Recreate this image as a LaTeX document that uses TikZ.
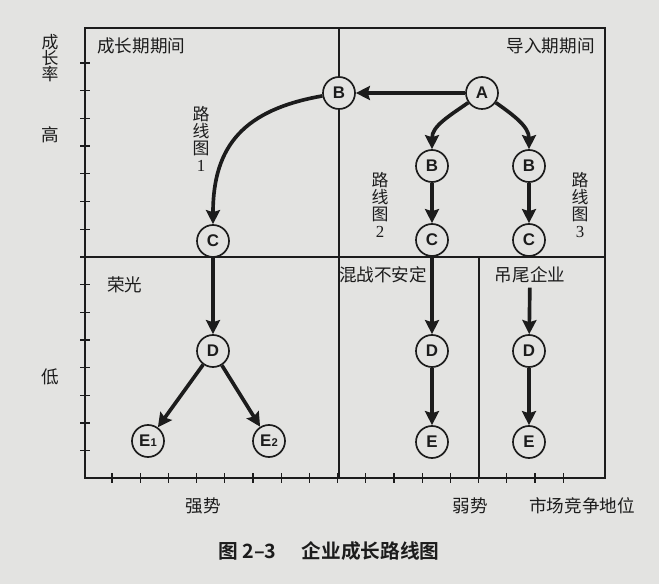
\documentclass[tikz,border=0pt]{standalone}
\usepackage{fontspec}
\usepackage{xcolor}
\usepackage{tikz}
\usetikzlibrary{arrows.meta, positioning}
\setmainfont{Liberation Serif}
\newfontfamily\cjk[BoldFont={Noto Sans CJK SC Bold}]{Noto Sans CJK SC}
\newfontfamily\lettersf{Liberation Sans}
\definecolor{paper}{RGB}{227,227,225}
\definecolor{ink}{RGB}{28,28,28}

\begin{document}
\begin{tikzpicture}[
    x=0.025cm, y=-0.025cm,
    stage/.style={circle, draw=ink, fill=paper, line width=1.2pt, minimum size=0.8cm, inner sep=0pt, text=ink, font=\lettersf\bfseries\fontsize{12}{12}\selectfont},
    zone/.style={inner sep=0pt, text=ink, font=\cjk\fontsize{12.5}{12.5}\selectfont},
    route/.style={inner sep=0pt, align=center, text=ink, font=\cjk\fontsize{12}{12}\selectfont},
    caption/.style={inner sep=0pt, text=ink, font=\cjk\bfseries\fontsize{14}{14}\selectfont},
    frame/.style={draw=ink, line width=0.9pt},
    arrow/.style={-{Stealth[length=10pt, width=10pt, inset=1.5pt]}, draw=ink, line width=2.6pt}
]
    \useasboundingbox (0,0) rectangle (659,584);
    \fill[paper] (0,0) rectangle (659,584);

    % Frame and quadrants
    \draw[frame] (85,28) rectangle (605,478);
    \draw[frame] (339,28) -- (339,478);
    \draw[frame] (85,257) -- (605,257);
    \draw[frame] (479,257) -- (479,478);

    % Ticks
    \foreach \k in {0,...,14}
        \draw[frame] (80,{63+27.7*\k}) -- (90,{63+27.7*\k});
    \foreach \k in {0,...,16}
        \draw[frame] ({112+28.2*\k},473) -- ({112+28.2*\k},483);

    % Axis labels
    \node[zone, align=center, font=\cjk\fontsize{12}{11.5}\selectfont] (rate) at (50,58) {成\\长\\率};
    \node[zone] (high) at (50,135) {高};
    \node[zone] (low) at (50,377) {低};
    \node[zone] (strong) at (203,506) {强势};
    \node[zone] (weak) at (470,506) {弱势};
    \node[zone] (market) at (582,506) {市场竞争地位};

    % Quadrant labels
    \node[zone, anchor=west] (growth) at (97,46) {成长期期间};
    \node[zone, anchor=east] (intro) at (595,46) {导入期期间};
    \node[zone, anchor=west] (glory) at (107,285) {荣光};
    \node[zone] (chaos) at (383,275) {混战不安定};
    \node[zone] (tail) at (530,275) {吊尾企业};

    % Route labels
    \node[route] (r1) at (201,139) {路\\线\\图\\{\rmfamily 1}};
    \node[route] (r2) at (380,205) {路\\线\\图\\{\rmfamily 2}};
    \node[route] (r3) at (580,205) {路\\线\\图\\{\rmfamily 3}};

    % Stages
    \node[stage] (A) at (482,93) {A};
    \node[stage] (B1) at (339,93) {B};
    \node[stage] (C1) at (213,241) {C};
    \node[stage] (D1) at (213,351) {D};
    \node[stage] (E1) at (148,441) {E{\fontsize{8}{8}\selectfont 1}};
    \node[stage] (E2) at (269,441) {E{\fontsize{8}{8}\selectfont 2}};
    \node[stage] (B2) at (432,166) {B};
    \node[stage] (C2) at (432,240) {C};
    \node[stage] (D2) at (432,351) {D};
    \node[stage] (E3) at (432,442) {E};
    \node[stage] (B3) at (529,166) {B};
    \node[stage] (C3) at (529,240) {C};
    \node[stage] (D3) at (529,351) {D};
    \node[stage] (E4) at (529,442) {E};

    % Arrows
    \draw[arrow] (A) -- (B1);
    \draw[arrow] (B1) to[out=190, in=90, looseness=1.2] (C1);
    \draw[arrow] (C1) -- (D1);
    \draw[arrow] (D1) -- (E1);
    \draw[arrow] (D1) -- (E2);
    \draw[arrow] (A) to[out=215, in=90] (B2);
    \draw[arrow] (B2) -- (C2);
    \draw[arrow] (C2) -- (D2);
    \draw[arrow] (D2) -- (E3);
    \draw[arrow] (A) to[out=-35, in=90] (B3);
    \draw[arrow] (B3) -- (C3);
    \draw[arrow, shorten <=3pt] (tail) -- (D3);
    \draw[arrow] (D3) -- (E4);

    % Caption
    \node[caption, anchor=west] (title) at (218,551) {图 2–3\hspace{18pt}企业成长路线图};
\end{tikzpicture}
\end{document}
